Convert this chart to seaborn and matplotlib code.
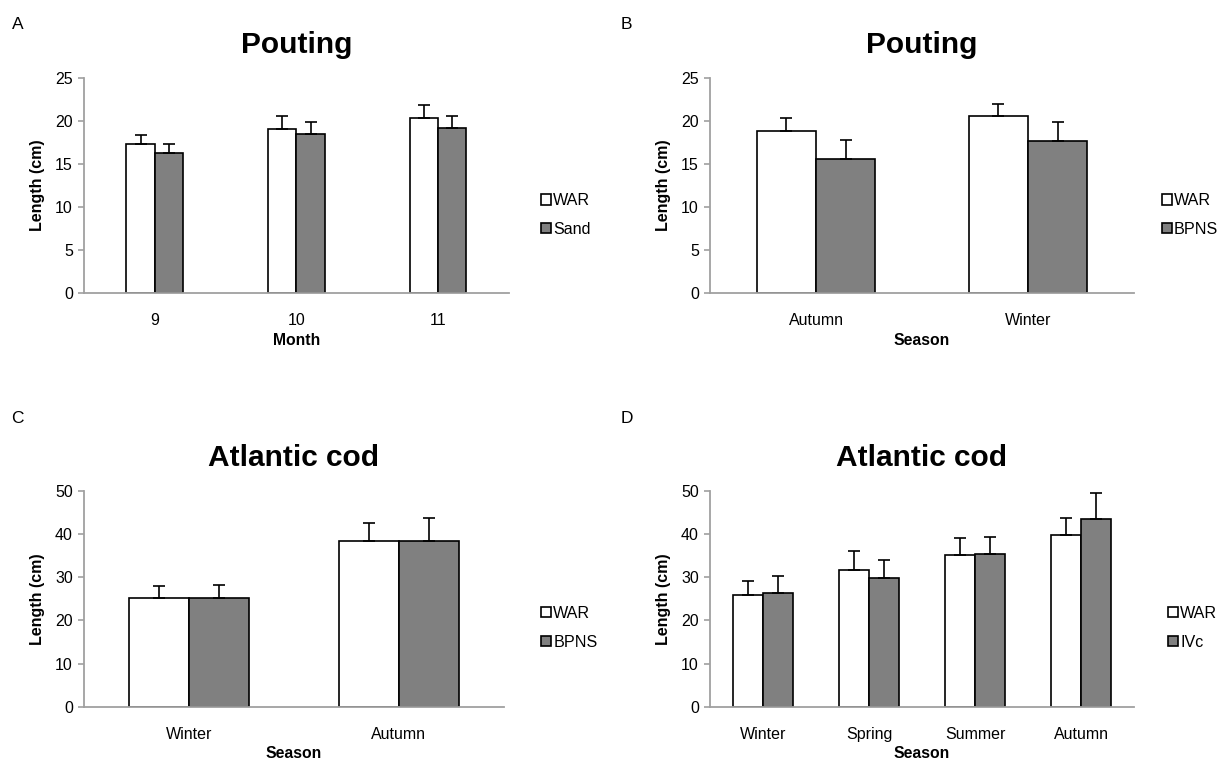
import pandas as pd
import matplotlib
matplotlib.use('Agg')
import matplotlib.pyplot as plt
import seaborn as sns

sns.set_style('white')
plt.rcParams['font.family'] = ['Liberation Sans', 'DejaVu Sans']
plt.rcParams['text.color'] = 'black'
plt.rcParams['axes.labelcolor'] = 'black'

# panel A: pouting by month
months = ['9', '10', '11']
a_war = [17.3, 19.0, 20.3]
a_war_se = [1.0, 1.5, 1.5]
a_sand = [16.3, 18.5, 19.2]
a_sand_se = [1.0, 1.4, 1.3]

# panel B: pouting by season
b_seasons = ['Autumn', 'Winter']
b_war = [18.8, 20.5]
b_war_se = [1.5, 1.4]
b_bpns = [15.6, 17.6]
b_bpns_se = [2.2, 2.3]

# panel C: cod, WAR vs BPNS
c_seasons = ['Winter', 'Autumn']
c_war = [25.3, 38.5]
c_war_se = [2.6, 4.1]
c_bpns = [25.1, 38.3]
c_bpns_se = [3.1, 5.5]

# panel D: cod, WAR vs IVc
d_seasons = ['Winter', 'Spring', 'Summer', 'Autumn']
d_war = [25.8, 31.6, 35.1, 39.7]
d_war_se = [3.3, 4.4, 4.0, 4.0]
d_ivc = [26.4, 29.9, 35.3, 43.4]
d_ivc_se = [3.8, 4.1, 4.1, 6.1]

GREY = '#808080'
SPINE = '#a0a0a0'


def panel(ax, cats, war, war_se, other, other_se, other_name, width,
          xlabel, title, ymax, ystep, leg_pos):
    df = pd.DataFrame({
        'cat': cats * 2,
        'val': war + other,
        'err': war_se + other_se,
        'grp': ['WAR'] * len(cats) + [other_name] * len(cats),
    })
    sns.barplot(data=df, x='cat', y='val', hue='grp', order=cats,
                hue_order=['WAR', other_name], palette=['white', GREY],
                edgecolor='black', linewidth=1.2, width=width, ax=ax,
                errorbar=None, saturation=1)
    # upper error bars only, placed on the bars seaborn drew
    bars = [p for p in ax.patches if p.get_height() > 0][:len(df)]
    xs = [p.get_x() + p.get_width() / 2 for p in bars]
    ys = [p.get_height() for p in bars]
    errs = list(df['err'])
    ax.errorbar(xs, ys, yerr=[[0] * len(errs), errs], fmt='none',
                ecolor='black', elinewidth=1.2, capsize=4, capthick=1.2,
                zorder=1)
    ax.set_ylim(0, ymax)
    ax.set_yticks(range(0, ymax + 1, ystep))
    ax.set_xlim(-0.5, len(cats) - 0.5)
    ax.set_title(title, fontsize=21.5, fontweight='bold', pad=18,
                 color='black')
    ax.set_xlabel(xlabel, fontsize=11.3, fontweight='bold', labelpad=3)
    ax.set_ylabel('Length (cm)', fontsize=11.5, fontweight='bold', labelpad=7)
    for s in ['top', 'right']:
        ax.spines[s].set_visible(False)
    for s in ['left', 'bottom']:
        ax.spines[s].set_color(SPINE)
        ax.spines[s].set_linewidth(1.3)
    ax.tick_params(axis='y', left=True, length=4, width=1.2, color=SPINE,
                   labelsize=11.5, pad=4, labelcolor='black')
    ax.tick_params(axis='x', bottom=False, labelsize=11.5, pad=11,
                   labelcolor='black')
    handles, labels = ax.get_legend_handles_labels()
    ax.get_legend().remove()
    ax.legend(handles, labels, loc='center left', bbox_to_anchor=leg_pos,
              bbox_transform=ax.figure.transFigure, frameon=False,
              fontsize=11.6, handlelength=0.62, handleheight=0.62,
              handletextpad=0.15, labelspacing=0.85, borderpad=0)


fig = plt.figure(figsize=(12.22, 7.6), dpi=100)
ax_a = fig.add_axes([0.0687, 0.614, 0.3478, 0.284])
ax_b = fig.add_axes([0.581, 0.614, 0.347, 0.284])
ax_c = fig.add_axes([0.0687, 0.0701, 0.3437, 0.284])
ax_d = fig.add_axes([0.581, 0.0701, 0.347, 0.284])

panel(ax_a, months, a_war, a_war_se, a_sand, a_sand_se, 'Sand', 0.4,
      'Month', 'Pouting', 25, 5, (0.436, 0.717))
panel(ax_b, b_seasons, b_war, b_war_se, b_bpns, b_bpns_se, 'BPNS', 0.56,
      'Season', 'Pouting', 25, 5, (0.944, 0.717))
panel(ax_c, c_seasons, c_war, c_war_se, c_bpns, c_bpns_se, 'BPNS', 0.57,
      'Season', 'Atlantic cod', 50, 10, (0.436, 0.174))
panel(ax_d, d_seasons, d_war, d_war_se, d_ivc, d_ivc_se, 'IVc', 0.57,
      'Season', 'Atlantic cod', 50, 10, (0.949, 0.174))

for letter, x, y in [('A', 0.010, 0.962), ('B', 0.508, 0.962),
                     ('C', 0.009, 0.443), ('D', 0.508, 0.443)]:
    fig.text(x, y, letter, fontsize=12.5, va='baseline')

fig.savefig('out.png', dpi=100)
